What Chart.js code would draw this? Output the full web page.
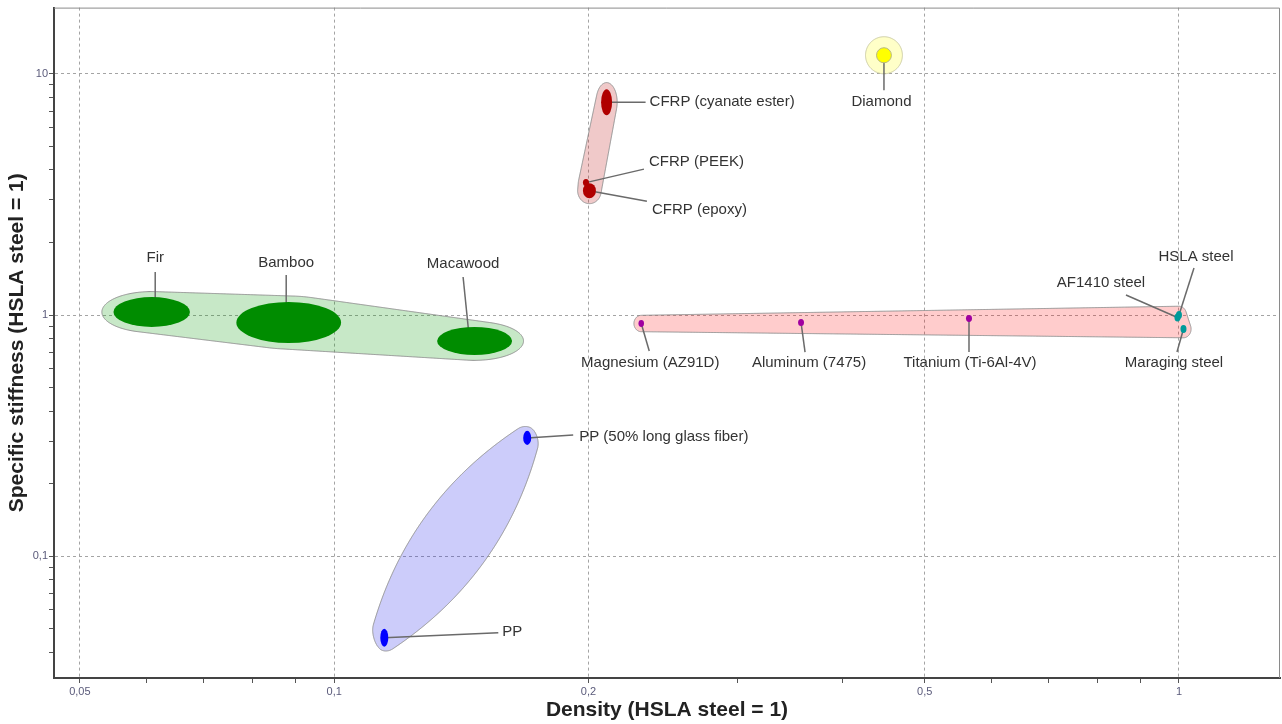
<!DOCTYPE html>
<html><head><meta charset="utf-8">
<script src="https://cdn.jsdelivr.net/npm/chart.js@4.4.1/dist/chart.umd.min.js"></script>
<style>html,body{margin:0;padding:0;background:#fff;}canvas{display:block;}</style>
</head><body>
<canvas id="c" width="1282" height="724"></canvas>
<script>
// ---------- DATA ----------
const materialNames = ['Fir','Bamboo','Macawood','CFRP (cyanate ester)','CFRP (PEEK)','CFRP (epoxy)','Diamond',
  'Magnesium (AZ91D)','Aluminum (7475)','Titanium (Ti-6Al-4V)','AF1410 steel','HSLA steel','Maraging steel',
  'PP (50% long glass fiber)','PP'];
const materialGroup = ['Woods','Woods','Woods','CFRP','CFRP','CFRP','Diamond',
  'Metals','Metals','Metals','Metals','Metals','Metals','Polymers','Polymers'];
const materialClass = ['wood','wood','wood','cfrp','cfrp','cfrp','ceramic',
  'nonferrous','nonferrous','nonferrous','steel','steel','steel','polymer','polymer'];
const densityLow   = [0.0548,0.0766,0.1324,0.2070,0.1970,0.1970,0.4385,0.2292,0.3541,0.5596,0.9878,0.9919,1.0041,0.1674,0.1134];
const densityHigh  = [0.0675,0.1019,0.1624,0.2133,0.2003,0.2041,0.4567,0.2327,0.3599,0.5689,1.0041,1.0082,1.0207,0.1711,0.1159];
const stiffnessLow = [0.892,0.766,0.683,6.73,3.42,3.05,11.1,0.892,0.900,0.9355,0.9399,0.9626,0.8424,0.2895,0.0422];
const stiffnessHigh= [1.187,1.132,0.892,8.63,3.66,3.52,12.82,0.9535,0.9626,1.0,1.0144,1.0389,0.9091,0.3310,0.0501];

const xTickValues = [0.05,0.1,0.2,0.5,1];
const xTickLabels = ['0,05','0,1','0,2','0,5','1'];
const xMinorTicks = [0.06,0.07,0.08,0.09,0.3,0.4,0.6,0.7,0.8,0.9];
const yTickValues = [0.1,1,10];
const yTickLabels = ['0,1','1','10'];
const yMinorTicks = [0.04,0.05,0.06,0.07,0.08,0.09,0.2,0.3,0.4,0.5,0.6,0.7,0.8,0.9,2,3,4,5,6,7,8,9];
const xRange = [0.0466, 1.317];
const yRange = [0.0313, 18.8];

// ---------- LAYOUT / STYLE (pixel offsets of labels from each material) ----------
const labelLayout = [
  [3.5,-54,'center',3.5,0,3.5,-40],
  [-2.5,-59.5,'center',-2.5,0,-2.5,-47.5],
  [-11.5,-77,'center',-5,0,-11.5,-64],
  [43,0,'left',0,0,39,0],
  [63,-20.5,'left',0,0,58,-13.5],
  [62.5,19.5,'left',0,0,57.5,10.5],
  [-2.5,47,'center',0,0,0,35],
  [9,39.5,'center',0,0,8,27.5],
  [8,40.5,'center',0,0,4,29.5],
  [1,44.5,'center',0,0,0,33.5],
  [-76.5,-34.5,'center',0,0,-51.5,-22.5],
  [17,-58,'center',0,0,15,-47],
  [-9.5,34,'center',0,0,-6.5,23],
  [52,-1,'left',0,0,46,-3],
  [118,-6,'left',0,0,114,-5]
];
const classStyle = {
  wood:{fill:'#008c00'}, cfrp:{fill:'#b00000'}, nonferrous:{fill:'#a000a0'},
  steel:{fill:'#009a9a'}, polymer:{fill:'#0000ff'}, ceramic:{fill:'#ffff00', stroke:'#b8b880'}
};
const groupStyle = {
  Woods:{fill:'rgba(0,150,0,0.22)', stroke:'#909090', sx:1.2, sy:1.1, pad:4, bulge:0},
  CFRP:{fill:'rgba(195,40,40,0.25)', stroke:'#909090', sx:1.2, sy:1.2, pad:4, bulge:0},
  Metals:{fill:'rgba(255,0,0,0.2)', stroke:'#909090', sx:1.2, sy:1.2, pad:4, bulge:0},
  Polymers:{fill:'rgba(40,40,235,0.24)', stroke:'#909090', sx:1.2, sy:1.0, pad:4, bulge:0.11},
  Diamond:{fill:'rgba(255,255,110,0.38)', stroke:'#c8c8a0', sx:1.2, sy:1.2, pad:9.5, bulge:0}
};
const FONT = '"Liberation Sans", Arial, sans-serif';

function convexHull(pts){
  pts = pts.slice().sort((a,b)=>a[0]-b[0]||a[1]-b[1]);
  const cr=(o,a,b)=>(a[0]-o[0])*(b[1]-o[1])-(a[1]-o[1])*(b[0]-o[0]);
  const lo=[],up=[];
  for(const p of pts){while(lo.length>=2&&cr(lo[lo.length-2],lo[lo.length-1],p)<=0)lo.pop();lo.push(p);}
  for(let i=pts.length-1;i>=0;i--){const p=pts[i];while(up.length>=2&&cr(up[up.length-2],up[up.length-1],p)<=0)up.pop();up.push(p);}
  lo.pop();up.pop();return lo.concat(up);
}
function resample(poly, step){
  const out=[];
  for(let i=0;i<poly.length;i++){
    const p=poly[i], q=poly[(i+1)%poly.length];
    const len=Math.hypot(q[0]-p[0],q[1]-p[1]); const n=Math.max(1,Math.round(len/step));
    for(let k=0;k<n;k++){const t=k/n; out.push([p[0]+(q[0]-p[0])*t, p[1]+(q[1]-p[1])*t]);}
  }
  return out;
}
function chaikin(poly, iter){
  for(let it=0;it<iter;it++){
    const out=[];
    for(let i=0;i<poly.length;i++){
      const p=poly[i], q=poly[(i+1)%poly.length];
      out.push([0.75*p[0]+0.25*q[0],0.75*p[1]+0.25*q[1]]);
      out.push([0.25*p[0]+0.75*q[0],0.25*p[1]+0.75*q[1]]);
    }
    poly=out;
  }
  return poly;
}

const ashbyPlugin = {
  id:'ashby',
  beforeDatasetsDraw(chart){
    const {ctx, chartArea:a} = chart;
    const xs = chart.scales.x, ys = chart.scales.y;
    const geo = materialNames.map((n,i)=>{
      const x0=xs.getPixelForValue(densityLow[i]), x1=xs.getPixelForValue(densityHigh[i]);
      const y0=ys.getPixelForValue(stiffnessLow[i]), y1=ys.getPixelForValue(stiffnessHigh[i]);
      return {cx:(x0+x1)/2, cy:(y0+y1)/2, rx:Math.abs(x1-x0)/2, ry:Math.abs(y1-y0)/2};
    });
    ctx.save();
    ctx.beginPath(); ctx.rect(a.left,a.top,a.width,a.height); ctx.clip();
    // envelopes
    const groups=[...new Set(materialGroup)];
    for(const g of groups){
      const st=groupStyle[g]; const pts=[]; const members=[];
      materialGroup.forEach((mg,i)=>{ if(mg!==g)return; const e=geo[i]; members.push(e);
        const rx=e.rx*st.sx+st.pad, ry=e.ry*st.sy+st.pad;
        for(let k=0;k<72;k++){const t=k/72*Math.PI*2; pts.push([e.cx+rx*Math.cos(t), e.cy+ry*Math.sin(t)]);}
      });
      let poly=resample(convexHull(pts),3);
      if(st.bulge>0 && members.length>1){
        let A=members[0],B=members[1],best=-1;
        for(const m1 of members) for(const m2 of members){const d=Math.hypot(m1.cx-m2.cx,m1.cy-m2.cy); if(d>best){best=d;A=m1;B=m2;}}
        const L=best, ux=(B.cx-A.cx)/L, uy=(B.cy-A.cy)/L, nx=-uy, ny=ux;
        const ts=poly.map(p=>(p[0]-A.cx)*ux+(p[1]-A.cy)*uy);
        const tmin=Math.min(...ts), tmax=Math.max(...ts), sag=st.bulge*L;
        poly=poly.map((p,i)=>{
          const s=(p[0]-A.cx)*nx+(p[1]-A.cy)*ny;
          const u=2*(ts[i]-tmin)/(tmax-tmin)-1; const d=sag*(1-u*u)*Math.sign(s);
          return [p[0]+nx*d, p[1]+ny*d];
        });
      }
      poly=chaikin(poly,2);
      ctx.beginPath(); ctx.moveTo(poly[0][0],poly[0][1]);
      for(let i=1;i<poly.length;i++) ctx.lineTo(poly[i][0],poly[i][1]);
      ctx.closePath();
      ctx.fillStyle=st.fill; ctx.fill();
      ctx.lineWidth=1; ctx.strokeStyle=st.stroke; ctx.stroke();
    }
    // leader lines
    ctx.strokeStyle='#6a6a6a'; ctx.lineWidth=1.5;
    geo.forEach((e,i)=>{ const L=labelLayout[i];
      ctx.beginPath(); ctx.moveTo(e.cx+L[3],e.cy+L[4]); ctx.lineTo(e.cx+L[5],e.cy+L[6]); ctx.stroke();
    });
    // material ellipses
    geo.forEach((e,i)=>{ const s=classStyle[materialClass[i]];
      ctx.beginPath(); ctx.ellipse(e.cx,e.cy,Math.max(e.rx,1),Math.max(e.ry,1),0,0,Math.PI*2);
      ctx.fillStyle=s.fill; ctx.fill();
      if(s.stroke){ctx.lineWidth=1;ctx.strokeStyle=s.stroke;ctx.stroke();}
    });
    ctx.restore();
    // labels
    ctx.save();
    ctx.font='15px '+FONT; ctx.fillStyle='#333'; ctx.textBaseline='middle';
    geo.forEach((e,i)=>{ const L=labelLayout[i]; ctx.textAlign=L[2];
      ctx.fillText(materialNames[i], e.cx+L[0], e.cy+L[1]); });
    ctx.restore();
  },
  afterDraw(chart){
    const {ctx, chartArea:a}=chart;
    ctx.save(); ctx.strokeStyle='#8a8a8a'; ctx.lineWidth=1;
    ctx.beginPath(); ctx.moveTo(a.left,a.top+0.5); ctx.lineTo(a.right-0.5,a.top+0.5); ctx.lineTo(a.right-0.5,a.bottom); ctx.stroke();
    ctx.restore();
  }
};

function labelFor(values, labels, v){
  const i = values.findIndex(t=>Math.abs(t-v)/t<1e-6);
  return i>=0 ? labels[i] : '';
}
function isMajor(values, v){ return v!=null && values.some(t=>Math.abs(t-v)/t<1e-6); }

const centers = materialNames.map((n,i)=>({x:Math.sqrt(densityLow[i]*densityHigh[i]), y:Math.sqrt(stiffnessLow[i]*stiffnessHigh[i])}));

new Chart(document.getElementById('c'), {
  type:'scatter',
  data:{datasets:[{data:centers, pointRadius:0, pointHoverRadius:0}]},
  options:{
    responsive:false, animation:false, events:[],
    plugins:{legend:{display:false}, tooltip:{enabled:false}},
    layout:{padding:{top:7,right:2,left:0,bottom:0}},
    scales:{
      x:{type:'logarithmic', position:'bottom', min:xRange[0], max:xRange[1], bounds:'data',
        afterFit:s=>{s.height=46;},
        afterBuildTicks:s=>{s.ticks=xTickValues.concat(xMinorTicks).sort((a,b)=>a-b).map(v=>({value:v}));},
        ticks:{autoSkip:false, maxRotation:0, padding:2, color:'#5a5a7a', font:{size:11, family:FONT},
          callback:v=>labelFor(xTickValues,xTickLabels,v)},
        grid:{color:c=>isMajor(xTickValues,c.tick&&c.tick.value)?'#a4a4a4':'rgba(0,0,0,0)', tickColor:'#555', tickLength:5, lineWidth:1},
        border:{color:'#444', width:2, dash:[3,3]},
        title:{display:true, text:'Density (HSLA steel = 1)', color:'#222', font:{size:21, weight:'bold', family:FONT}, padding:{top:0,bottom:1}}
      },
      y:{type:'logarithmic', position:'left', min:yRange[0], max:yRange[1], bounds:'data',
        afterFit:s=>{s.width=54;},
        afterBuildTicks:s=>{s.ticks=yTickValues.concat(yMinorTicks).sort((a,b)=>a-b).map(v=>({value:v}));},
        ticks:{autoSkip:false, padding:1, color:'#5a5a7a', font:{size:11, family:FONT},
          callback:v=>labelFor(yTickValues,yTickLabels,v)},
        grid:{color:c=>isMajor(yTickValues,c.tick&&c.tick.value)?'#a4a4a4':'rgba(0,0,0,0)', tickColor:'#555', tickLength:5, lineWidth:1},
        border:{color:'#444', width:2, dash:[3,3]},
        title:{display:true, text:'Specific stiffness (HSLA steel = 1)', color:'#222', font:{size:21, weight:'bold', family:FONT}, padding:{top:5,bottom:0}}
      }
    }
  },
  plugins:[ashbyPlugin]
});
</script>
</body></html>
